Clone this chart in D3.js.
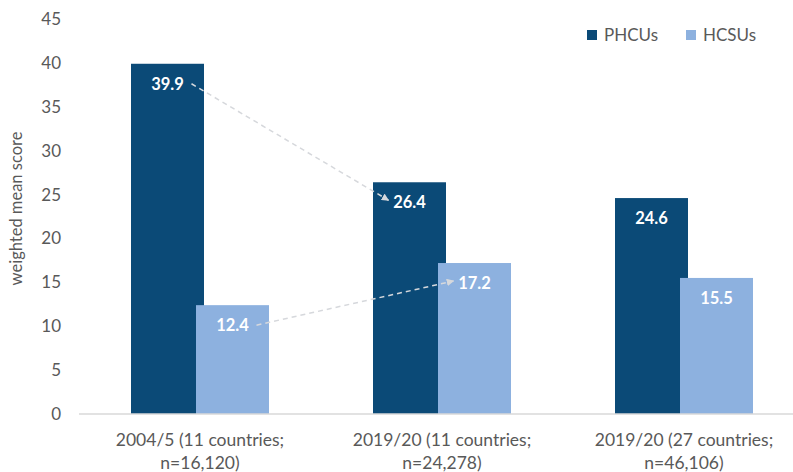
<!DOCTYPE html>
<html>
<head>
<meta charset="utf-8">
<script src="https://cdn.jsdelivr.net/npm/d3@7"></script>
<style>
  html, body { margin: 0; padding: 0; background: #fff; }
  svg { display: block; font-family: Lato, "Open Sans", sans-serif; }
</style>
</head>
<body>
<svg id="chart" width="793" height="472"></svg>
<script>
// Survey waves (two-line axis labels)
const categories = ["w1", "w2", "w3"];
const categoryLines = [
  ["2004/5 (11 countries;", "n=16,120)"],
  ["2019/20 (11 countries;", "n=24,278)"],
  ["2019/20 (27 countries;", "n=46,106)"]
];
const seriesNames = ["PHCUs", "HCSUs"];
const phcu = [39.9, 26.4, 24.6];
const hcsu = [12.4, 17.2, 15.5];
const yTicks = [0, 5, 10, 15, 20, 25, 30, 35, 40, 45];
// Change arrows: [series, from category index, to category index]
const changes = [["PHCUs", 0, 1], ["HCSUs", 0, 1]];

const colors = { PHCUs: "#0b4a77", HCSUs: "#8db1df" };
const values = { PHCUs: phcu, HCSUs: hcsu };
const textGrey = "#595959";

const svg = d3.select("#chart");

const x = d3.scaleBand().domain(categories).range([79, 805]).paddingInner(0).paddingOuter(0);
const y = d3.scaleLinear().domain([0, 45]).range([414, 19]);

const barW = 73, overlap = 8;
const groupW = barW * 2 - overlap;
const barX = (i, s) => x(categories[i]) + (x.bandwidth() - groupW) / 2 + (s === "PHCUs" ? 0 : barW - overlap);

// y axis labels (no axis line)
const yAxis = d3.axisLeft(y).tickValues(yTicks).tickSize(0).tickPadding(0);
svg.append("g")
  .attr("transform", "translate(61,0)")
  .call(yAxis)
  .call(g => g.select(".domain").remove())
  .call(g => g.selectAll("text")
    .attr("fill", textGrey)
    .style("font-size", "17px")
    .style("font-family", "Lato, sans-serif"));

// y axis title
svg.append("text")
  .attr("transform", "translate(22," + (y(22.5) - 8) + ") rotate(-90)")
  .attr("text-anchor", "middle")
  .attr("fill", textGrey)
  .style("font-size", "16.5px")
  .text("weighted mean score");

// bars: dark series first so the light series overlaps it
seriesNames.forEach(s => {
  svg.append("g").selectAll("rect")
    .data(values[s])
    .join("rect")
    .attr("x", (d, i) => barX(i, s))
    .attr("width", barW)
    .attr("y", d => y(d))
    .attr("height", d => y(0) - y(d))
    .attr("fill", colors[s]);
});

// baseline
svg.append("line")
  .attr("x1", 79).attr("x2", 793)
  .attr("y1", y(0)).attr("y2", y(0))
  .attr("stroke", "#d9d9d9").attr("stroke-width", 1.5);

// x category labels
const xl = svg.append("g").selectAll("text")
  .data(categories)
  .join("text")
  .attr("text-anchor", "middle")
  .attr("fill", textGrey)
  .style("font-size", "17.5px")
  .attr("x", d => x(d) + x.bandwidth() / 2)
  .attr("y", 446);
xl.each(function(d, i) {
  const t = d3.select(this);
  categoryLines[i].forEach((line, k) => {
    t.append("tspan").attr("x", x(d) + x.bandwidth() / 2).attr("dy", k === 0 ? 0 : 23).text(line);
  });
});

// value labels
const labelDy = 20;
seriesNames.forEach(s => {
  svg.append("g").selectAll("text")
    .data(values[s])
    .join("text")
    .attr("x", (d, i) => barX(i, s) + barW / 2)
    .attr("y", d => y(d) + labelDy)
    .attr("dy", "0.35em")
    .attr("text-anchor", "middle")
    .attr("fill", "#fff")
    .style("font-size", "16.5px")
    .style("font-weight", "bold")
    .text(d => d.toFixed(1));
});

// dashed change arrows between waves
const defs = svg.append("defs");
defs.append("marker")
  .attr("id", "arrowhead")
  .attr("viewBox", "0 0 10 10")
  .attr("refX", 9).attr("refY", 5)
  .attr("markerWidth", 5).attr("markerHeight", 5)
  .attr("orient", "auto")
  .append("path").attr("d", "M0,0 L10,5 L0,10 Z").attr("fill", "#d6d8dc");

const halfLabel = 17;
changes.forEach(([s, a, b]) => {
  const va = values[s][a], vb = values[s][b];
  const x1 = barX(a, s) + barW / 2 + halfLabel + 7;
  const y1 = y(va) + labelDy;
  const x2 = barX(b, s) + barW / 2 - halfLabel - 4;
  const y2 = y(vb) + labelDy - 2;
  svg.append("line")
    .attr("x1", x1).attr("y1", y1)
    .attr("x2", x2).attr("y2", y2)
    .attr("stroke", "#d6d8dc")
    .attr("stroke-width", 1.5)
    .attr("stroke-dasharray", "5,4")
    .attr("marker-end", "url(#arrowhead)");
});

// legend
const legend = svg.append("g");
const legendX = [587, 686];
seriesNames.forEach((s, i) => {
  legend.append("rect")
    .attr("x", legendX[i]).attr("y", 30)
    .attr("width", 10).attr("height", 10)
    .attr("fill", colors[s]);
  legend.append("text")
    .attr("x", legendX[i] + 17).attr("y", 35)
    .attr("dy", "0.35em")
    .attr("fill", textGrey)
    .style("font-size", "17px")
    .text(s);
});
</script>
</body>
</html>
